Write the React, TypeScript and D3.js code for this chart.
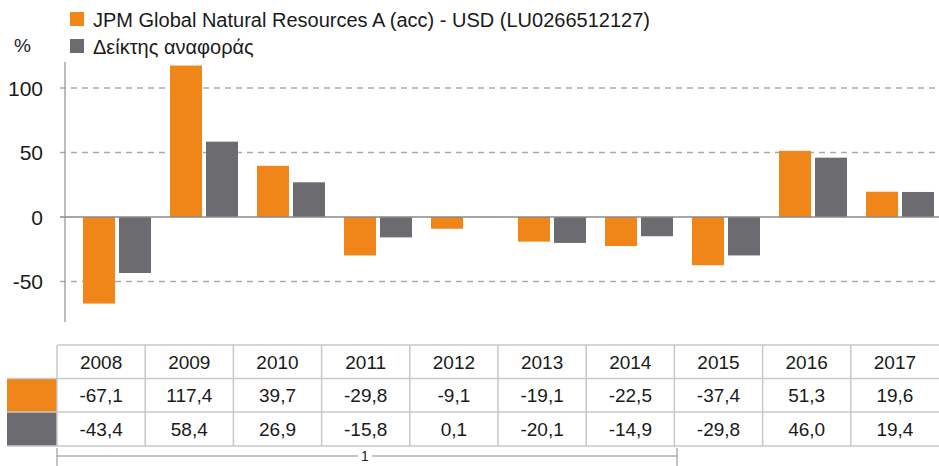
import React from "react";
import * as d3 from "d3";

const years = ["2008", "2009", "2010", "2011", "2012", "2013", "2014", "2015", "2016", "2017"];
const fundValues = [-67.1, 117.4, 39.7, -29.8, -9.1, -19.1, -22.5, -37.4, 51.3, 19.6];
const benchValues = [-43.4, 58.4, 26.9, -15.8, 0.1, -20.1, -14.9, -29.8, 46.0, 19.4];
const fundLabels = ["-67,1", "117,4", "39,7", "-29,8", "-9,1", "-19,1", "-22,5", "-37,4", "51,3", "19,6"];
const benchLabels = ["-43,4", "58,4", "26,9", "-15,8", "0,1", "-20,1", "-14,9", "-29,8", "46,0", "19,4"];
const yTicks = [-50, 0, 50, 100];
const seriesNames = ["JPM Global Natural Resources A (acc) - USD (LU0266512127)", "Δείκτης αναφοράς"];

const W = 939;
const H = 466;
const ORANGE = "#F08519";
const GRAY = "#6C6B70";
const FONT = "'Liberation Sans', Arial, Helvetica, sans-serif";

export default function App() {
  const y = d3.scaleLinear().domain([-80, 120]).range([320.2, 62.2]);
  const x = d3.scaleBand<string>().domain(years).range([73.5, 943.5]);
  const barW = 32;
  const gap = 4;
  const tableX = d3.scaleBand<string>().domain(years).range([57, 939]);
  const rowTops = [345, 378.5, 412, 446];
  const cw = tableX.bandwidth();

  return (
    <svg width={W} height={H} style={{ position: "absolute", left: 0, top: 0, background: "#fff" }} fontFamily={FONT}>
      {/* legend */}
      <rect x={70} y={12} width={14} height={14} fill={ORANGE} />
      <text x={93} y={27} fontSize={20} fill="#1a1a1a">{seriesNames[0]}</text>
      <rect x={70} y={39} width={14} height={14} fill={GRAY} />
      <text x={93} y={53.5} fontSize={20} fill="#1a1a1a">{seriesNames[1]}</text>
      <text x={14} y={52} fontSize={19} fill="#1a1a1a">%</text>

      {/* grid */}
      {yTicks.map((t) => (
        <g key={t}>
          {t !== 0 && (
            <line x1={60} x2={939} y1={y(t)} y2={y(t)} stroke="#aaaaaa" strokeWidth={1.3} strokeDasharray="6,5" />
          )}
          <text x={43} y={y(t) + 7.5} fontSize={21} textAnchor="end" fill="#1a1a1a">{t}</text>
        </g>
      ))}

      {/* bars */}
      {years.map((yr, i) => {
        const cx = (x(yr) as number) + x.bandwidth() / 2;
        const v1 = fundValues[i];
        const v2 = benchValues[i];
        return (
          <g key={yr}>
            <rect x={cx - gap / 2 - barW} width={barW} y={y(Math.max(0, v1))} height={Math.abs(y(v1) - y(0))} fill={ORANGE} />
            <rect x={cx + gap / 2} width={barW} y={y(Math.max(0, v2))} height={Math.abs(y(v2) - y(0))} fill={GRAY} />
          </g>
        );
      })}

      {/* zero line and axis */}
      <line x1={60} x2={939} y1={y(0)} y2={y(0)} stroke="#8a8a8a" strokeWidth={1.5} />
      <line x1={65} x2={65} y1={62} y2={322} stroke="#9a9a9a" strokeWidth={1.3} />

      {/* table */}
      <rect x={7} y={rowTops[1]} width={50} height={rowTops[2] - rowTops[1]} fill={ORANGE} />
      <rect x={7} y={rowTops[2]} width={50} height={rowTops[3] - rowTops[2]} fill={GRAY} />
      {rowTops.map((r) => (
        <line key={r} x1={r === rowTops[0] ? 57 : 7} x2={939} y1={r} y2={r} stroke="#c8c8c8" strokeWidth={1.5} />
      ))}
      {years.map((yr) => (
        <line key={yr} x1={tableX(yr) as number} x2={tableX(yr) as number} y1={rowTops[0]} y2={rowTops[3]} stroke="#c8c8c8" strokeWidth={1.5} />
      ))}
      {years.map((yr, i) => {
        const cx = (tableX(yr) as number) + cw / 2;
        return (
          <g key={yr} fontSize={19} textAnchor="middle" fill="#1a1a1a">
            <text x={cx} y={(rowTops[0] + rowTops[1]) / 2 + 7}>{yr}</text>
            <text x={cx} y={(rowTops[1] + rowTops[2]) / 2 + 7}>{fundLabels[i]}</text>
            <text x={cx} y={(rowTops[2] + rowTops[3]) / 2 + 7}>{benchLabels[i]}</text>
          </g>
        );
      })}

      {/* bracket */}
      <line x1={57} x2={57} y1={448} y2={466} stroke="#8a8a8a" strokeWidth={1} />
      <line x1={677} x2={677} y1={448} y2={466} stroke="#8a8a8a" strokeWidth={1} />
      <line x1={57} x2={358} y1={456} y2={456} stroke="#8a8a8a" strokeWidth={1} />
      <line x1={372} x2={677} y1={456} y2={456} stroke="#8a8a8a" strokeWidth={1} />
      <text x={365} y={461} fontSize={14} textAnchor="middle" fill="#222">1</text>
    </svg>
  );
}
